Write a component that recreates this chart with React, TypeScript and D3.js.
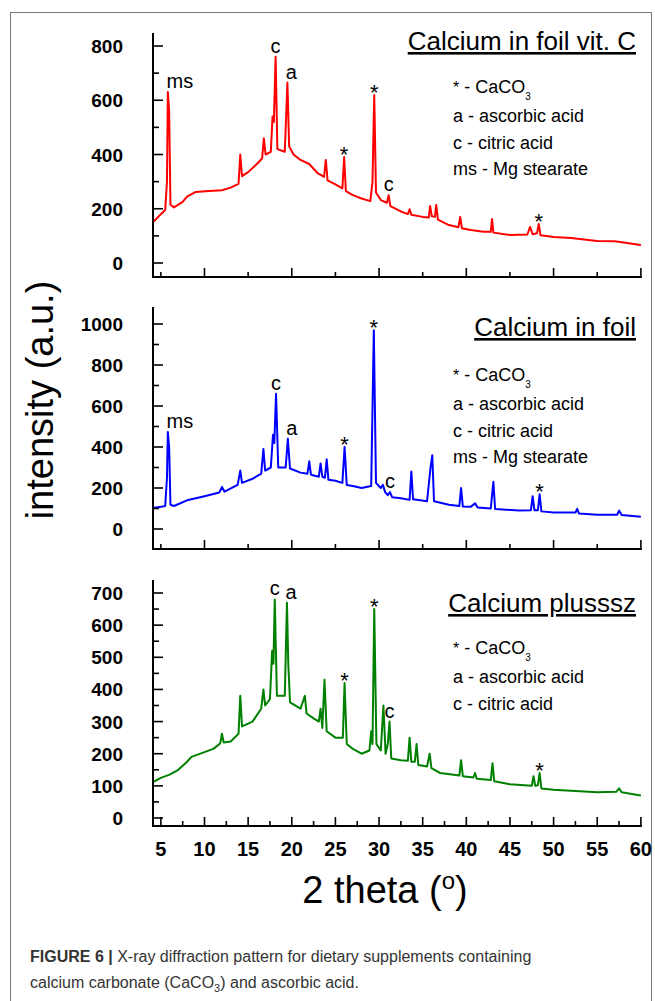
import * as d3 from 'd3';

// 2θ / intensity pairs (peaks included as base-top-base)
const vitC: [number, number][] = [
  [4.1, 150], [5.0, 180], [5.5, 195], [5.7, 300], [5.8, 630], [5.95, 560], [6.1, 215], [6.5, 205], [7.5, 225], [8.0, 245],
  [9.0, 262], [10.5, 265], [12.0, 268], [13.0, 278], [13.9, 292], [14.1, 400], [14.3, 320], [15.0, 335],
  [16.0, 365], [16.6, 385], [16.8, 460], [17.0, 400], [17.6, 410], [17.8, 540], [17.95, 520], [18.15, 760], [18.35, 420],
  [19.2, 410], [19.5, 665], [19.7, 430], [20.2, 400], [21.0, 380], [22.0, 365], [23.0, 330], [23.7, 318],
  [23.9, 380], [24.1, 305], [25.0, 290], [25.8, 275], [26.0, 391], [26.2, 265], [27.0, 250], [28.0, 238],
  [29.0, 228], [29.25, 300], [29.45, 619], [29.65, 260], [30.2, 232], [30.9, 222], [31.1, 250], [31.3, 210],
  [32.5, 190], [33.3, 180], [33.5, 198], [33.7, 178], [35.0, 170], [35.7, 168], [35.85, 210], [36.05, 172], [36.4, 170],
  [36.55, 214], [36.75, 160], [38.0, 140], [39.1, 132], [39.3, 170], [39.5, 128], [40.5, 122], [42.0, 115],
  [42.8, 115], [42.95, 162], [43.1, 112], [45.0, 103], [47.0, 105], [47.3, 133], [47.6, 106], [48.1, 110],
  [48.3, 144], [48.5, 102], [50.0, 96], [52.0, 92], [55.0, 81], [57.0, 80], [60.0, 66],
];

const foil: [number, number][] = [
  [4.1, 102], [5.0, 108], [5.5, 112], [5.7, 250], [5.8, 473], [5.95, 400], [6.1, 118], [6.5, 112], [8.0, 140],
  [10.0, 160], [11.7, 178], [12.0, 205], [12.3, 182], [13.8, 215], [14.1, 285], [14.3, 225], [15.5, 245],
  [16.5, 270], [16.75, 390], [16.95, 285], [17.6, 300], [17.85, 460], [18.0, 420], [18.2, 660], [18.45, 300],
  [19.3, 300], [19.55, 440], [19.8, 295], [21.0, 275], [21.8, 270], [22.0, 330], [22.2, 265], [23.1, 255],
  [23.3, 320], [23.5, 255], [23.8, 250], [24.0, 340], [24.2, 240], [25.0, 235], [25.8, 225], [26.05, 400],
  [26.3, 215], [27.0, 210], [28.0, 200], [29.1, 210], [29.4, 970], [29.65, 225], [30.2, 200], [30.45, 215],
  [30.7, 180], [31.0, 165], [31.25, 180], [31.5, 155], [32.5, 150], [33.5, 142], [33.7, 280], [33.9, 145],
  [35.5, 135], [35.9, 300], [36.1, 360], [36.3, 135], [38.0, 118], [39.2, 112], [39.4, 200], [39.6, 110],
  [40.5, 108], [41.0, 125], [41.3, 105], [42.8, 100], [43.1, 230], [43.3, 98], [46.0, 90], [47.4, 92],
  [47.6, 160], [47.8, 92], [48.2, 92], [48.4, 170], [48.6, 86], [50.0, 80], [52.5, 80], [52.7, 98],
  [52.9, 76], [55.0, 70], [57.3, 70], [57.5, 90], [57.8, 68], [60.0, 60],
];

const plus: [number, number][] = [
  [4.1, 112], [5.0, 125], [6.0, 135], [7.0, 150], [8.0, 175], [8.5, 190], [10.0, 205], [11.0, 215],
  [11.8, 232], [12.0, 262], [12.2, 235], [13.0, 238], [13.9, 262], [14.1, 380], [14.3, 285], [15.5, 300],
  [16.5, 340], [16.75, 400], [16.95, 350], [17.5, 370], [17.75, 520], [17.9, 480], [18.05, 680], [18.3, 380],
  [19.2, 380], [19.45, 670], [19.6, 480], [19.8, 360], [21.0, 340], [21.5, 380], [21.7, 325], [22.5, 310],
  [23.1, 300], [23.3, 340], [23.5, 280], [23.75, 430], [24.0, 270], [25.0, 250], [25.85, 250], [26.05, 420],
  [26.3, 230], [27.0, 215], [28.0, 200], [28.9, 210], [29.1, 270], [29.25, 230], [29.45, 650], [29.7, 230],
  [30.2, 210], [30.5, 350], [30.75, 200], [31.0, 230], [31.2, 300], [31.4, 185], [32.5, 180], [33.3, 178],
  [33.5, 250], [33.7, 175], [34.1, 175], [34.3, 230], [34.5, 165], [35.5, 160], [35.8, 200], [36.0, 155],
  [37.0, 140], [39.2, 132], [39.4, 180], [39.6, 130], [40.8, 126], [41.0, 140], [41.2, 122], [42.8, 118],
  [43.0, 170], [43.2, 114], [45.0, 105], [47.5, 100], [47.7, 130], [47.9, 100], [48.2, 102], [48.4, 140],
  [48.6, 92], [50.0, 88], [52.0, 85], [55.0, 80], [57.2, 82], [57.5, 92], [57.8, 80], [60.0, 70],
];

const vitCNotes: [number, number, string][] = [[5.8, 630, 'ms'], [18.15, 760, 'c'], [19.5, 665, 'a'], [26.0, 391, '*'], [29.45, 619, '*'], [31.1, 250, 'c'], [48.3, 144, '*']];
const foilNotes: [number, number, string][] = [[5.8, 473, 'ms'], [18.2, 660, 'c'], [19.55, 440, 'a'], [26.05, 400, '*'], [29.4, 970, '*'], [31.25, 180, 'c'], [48.4, 170, '*']];
const plusNotes: [number, number, string][] = [[18.05, 680, 'c'], [19.45, 670, 'a'], [26.05, 420, '*'], [29.45, 650, '*'], [31.2, 300, 'c'], [48.4, 140, '*']];

const legend4 = ['a - ascorbic acid', 'c - citric acid', 'ms - Mg stearate'];
const legend3 = ['a - ascorbic acid', 'c - citric acid'];
const xTicks = [5, 10, 15, 20, 25, 30, 35, 40, 45, 50, 55, 60];

const x = d3.scaleLinear().domain([4.1, 59.9]).range([153, 640]);
const FONT = 'Arial, "Liberation Sans", sans-serif';

interface PanelProps {
  data: [number, number][];
  notes: [number, number, string][];
  color: string;
  title: string;
  legend: string[];
  yMax: number;
  yTop: number;
  yStep: number;
  minor: number;
  zeroY: number;
  topY: number;
  axisTop: number;
  baseY: number;
  titleY: number;
  legendY: number;
  bottom?: boolean;
}

function Panel(p: PanelProps) {
  const y = d3.scaleLinear().domain([0, p.yTop]).range([p.zeroY, p.topY]);
  const line = d3.line<[number, number]>().x((d) => x(d[0])).y((d) => y(d[1]));
  const yMajor = d3.range(0, p.yMax + 1, p.yStep);
  const yMinor = d3.range(p.minor, p.yMax + p.minor, p.yStep).filter((v) => y(v) > p.axisTop);
  const xMajor = p.bottom ? xTicks : d3.range(10, 61, 10);
  const xMinor = p.bottom ? d3.range(7.5, 60, 5) : d3.range(5, 60, 10);
  return (
    <g fontFamily={FONT}>
      <path d={line(p.data) ?? ''} fill="none" stroke={p.color} strokeWidth={2} strokeLinejoin="round" />
      <line x1={153} x2={153} y1={p.axisTop} y2={p.baseY} stroke="#000" strokeWidth={2} />
      <line x1={152} x2={x(60) + 1} y1={p.baseY} y2={p.baseY} stroke="#000" strokeWidth={2} />
      {yMajor.map((v) => (
        <g key={v}>
          <line x1={153} x2={163} y1={y(v)} y2={y(v)} stroke="#000" strokeWidth={1.6} />
          <text x={123} y={y(v) + 7} textAnchor="end" fontSize={19} fontWeight="bold">{v}</text>
        </g>
      ))}
      {yMinor.map((v) => (
        <line key={v} x1={153} x2={159} y1={y(v)} y2={y(v)} stroke="#000" strokeWidth={1.6} />
      ))}
      {xMajor.map((v) => (
        <line key={v} x1={x(v)} x2={x(v)} y1={p.baseY} y2={p.baseY - 9} stroke="#000" strokeWidth={1.6} />
      ))}
      {xMinor.map((v) => (
        <line key={v} x1={x(v)} x2={x(v)} y1={p.baseY} y2={p.baseY - 5} stroke="#000" strokeWidth={1.6} />
      ))}
      {p.bottom && xTicks.map((v) => (
        <text key={v} x={x(v)} y={p.baseY + 30} textAnchor="middle" fontSize={20} fontWeight="bold">{v}</text>
      ))}
      {p.notes.map(([nx, ny, s]) => (
        <text key={nx} x={x(nx) + (s === 'ms' ? 12 : s === 'a' ? 4 : 0)} y={y(ny) - (s === '*' ? -5 : 4)}
          textAnchor="middle" fontSize={s === '*' ? 22 : 20}>{s}</text>
      ))}
      <text x={636} y={p.titleY} textAnchor="end" fontSize={26} textDecoration="underline">{p.title}</text>
      <text x={453} y={p.legendY} fontSize={18}>
        <tspan fontSize={16}>*</tspan> - CaCO<tspan fontSize={10} dy={7}>3</tspan>
      </text>
      {p.legend.map((s, i) => (
        <text key={s} x={453} y={p.legendY + 29 + i * 26.5} fontSize={18}>{s}</text>
      ))}
    </g>
  );
}

export default function App() {
  return (
    <svg width={655} height={1001} style={{ position: 'absolute', left: 0, top: 0, background: '#fff' }}>
      <rect x={10.5} y={12.5} width={641} height={990} fill="none" stroke="#777" strokeWidth={1} />
      <Panel data={vitC} notes={vitCNotes} color="#ff0000" title="Calcium in foil vit. C" legend={legend4}
        yMax={800} yTop={800} yStep={200} minor={100} zeroY={263} topY={46} axisTop={33} baseY={277} titleY={50} legendY={93} />
      <Panel data={foil} notes={foilNotes} color="#0000ff" title="Calcium in foil" legend={legend4}
        yMax={1000} yTop={1000} yStep={200} minor={100} zeroY={529} topY={324} axisTop={307} baseY={549} titleY={336} legendY={381} />
      <Panel data={plus} notes={plusNotes} color="#008000" title="Calcium plusssz" legend={legend3}
        yMax={700} yTop={700} yStep={100} minor={50} zeroY={818} topY={593} axisTop={580} baseY={826} titleY={612} legendY={654} bottom />
      <text transform="translate(53,400) rotate(-90)" textAnchor="middle" fontFamily={FONT} fontSize={38}>intensity (a.u.)</text>
      <text x={385} y={903} textAnchor="middle" fontFamily={FONT} fontSize={38}>
        2 theta (<tspan fontSize={24} dy={-14}>o</tspan><tspan dy={14}>)</tspan>
      </text>
      <text x={30} y={962} fontFamily={FONT} fontSize={16} fill="#333">
        <tspan fontWeight="bold">FIGURE 6 |</tspan> X-ray diffraction pattern for dietary supplements containing
      </text>
      <text x={30} y={988} fontFamily={FONT} fontSize={16} fill="#333">
        calcium carbonate (CaCO<tspan fontSize={11} dy={4}>3</tspan><tspan dy={-4}>) and ascorbic acid.</tspan>
      </text>
    </svg>
  );
}
